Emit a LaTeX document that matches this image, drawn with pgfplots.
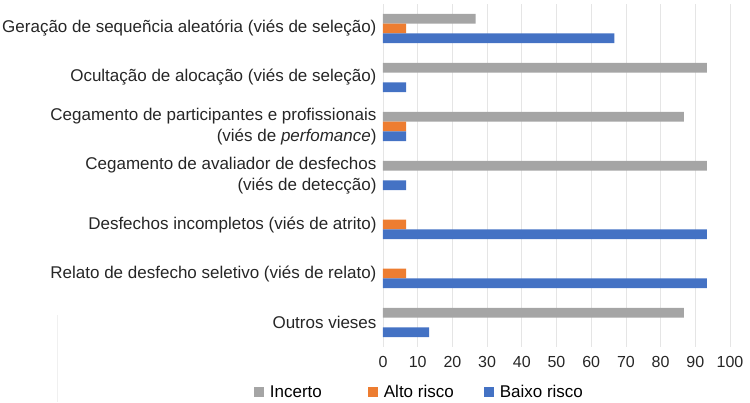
\documentclass[border=0pt]{standalone}
\usepackage{fontspec}
\setmainfont{Liberation Sans}
\usepackage{pgfplots}
\pgfplotsset{compat=1.18}
\definecolor{cGray}{RGB}{165,165,165}
\definecolor{cOrange}{RGB}{237,125,49}
\definecolor{cBlue}{RGB}{68,114,196}
\begin{document}
\begin{tikzpicture}
\useasboundingbox (0pt,0pt) rectangle (750pt,402pt);
\draw[gray!12, line width=0.8pt] (57pt,0pt) -- (57pt,87pt);
\begin{axis}[
  at={(383pt,55pt)}, anchor=south west,
  width=347pt, height=343pt, scale only axis,
  xmin=0, xmax=100, ymin=-0.5, ymax=6.5, y dir=reverse,
  xtick={0,10,...,100}, ytick={0,...,6},
  yticklabels={
    {Geração de sequeñcia aleatória (viés de seleção)},
    {Ocultação de alocação (viés de seleção)},
    {Cegamento de participantes e profissionais \\ (viés de \textit{perfomance})},
    {Cegamento de avaliador de desfechos \\ (viés de detecção)},
    {Desfechos incompletos (viés de atrito)},
    {Relato de desfecho seletivo (viés de relato)},
    {Outros vieses}},
  yticklabel style={align=right, font=\fontsize{17}{20.5}\selectfont, text=black!85, xshift=-3pt},
  xticklabel style={font=\fontsize{16}{19}\selectfont, text=black!85, yshift=-6pt},
  /pgf/number format/assume math mode=true,
  xmajorgrids, grid style={draw=gray!20, line width=0.6pt},
  axis line style={draw=none}, major tick length=0pt,
  xbar, bar width=0.2,
  legend style={at={(0.105,-0.131)}, anchor=center, legend columns=3, draw=none,
    fill=none, font=\fontsize{17}{20}\selectfont,
    /tikz/every odd column/.append style={column sep=4pt},
    /tikz/column 2/.style={column sep=44pt},
    /tikz/column 4/.style={column sep=28pt}},
  legend image code/.code={\fill[#1] (0pt,-5pt) rectangle (10pt,5pt);},
]
\addplot[fill=cGray, draw=none, bar shift=-0.2] coordinates {(26.7,0) (93.3,1) (86.7,2) (93.3,3) (86.7,6)};
\addplot[fill=cOrange, draw=none, bar shift=0] coordinates {(6.7,0) (6.7,2) (6.7,4) (6.7,5)};
\addplot[fill=cBlue, draw=none, bar shift=0.2] coordinates {(66.7,0) (6.7,1) (6.7,2) (6.7,3) (93.3,4) (93.3,5) (13.3,6)};
\legend{Incerto, Alto risco, Baixo risco}
\end{axis}
\end{tikzpicture}
\end{document}
